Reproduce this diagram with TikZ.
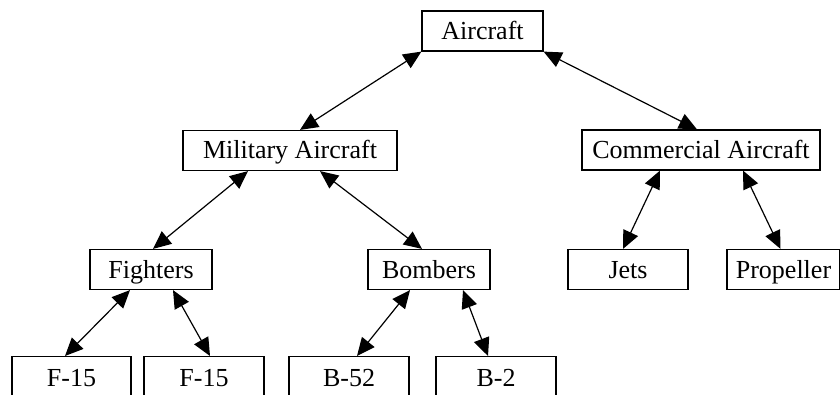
\documentclass[tikz,border=0pt]{standalone}
\usepackage{fontspec}
\setmainfont{Liberation Serif}
\usetikzlibrary{arrows.meta}
\begin{document}
\begin{tikzpicture}[x=1pt,y=-1pt,
  box/.style={draw,line width=1.2pt,inner sep=0pt,font=\fontsize{26}{30}\selectfont,minimum height=40pt,text height=20pt,text depth=3pt},
  link/.style={line width=1.2pt,{Triangle[length=18pt,width=16pt]}-{Triangle[length=18pt,width=16pt]}}]
\useasboundingbox (0,0) rectangle (840,395);
\clip (0,0) rectangle (840,395);
\node[box,minimum width=121pt] (air) at (482.5,31) {Aircraft};
\node[box,minimum width=214pt] (mil) at (290,150.5) {Military Aircraft};
\node[box,minimum width=238pt] (com) at (701,150) {Commercial Aircraft};
\node[box,minimum width=122pt] (fig) at (151,269.5) {Fighters};
\node[box,minimum width=122pt] (bom) at (429,269.5) {Bombers};
\node[box,minimum width=120pt] (jet) at (628,269.5) {Jets};
\node[box,minimum width=113pt] (pro) at (783.5,269.5) {Propeller};
\node[box,minimum width=119pt,minimum height=42pt,anchor=north] (fa) at (71.5,356) {F-15};
\node[box,minimum width=120pt,minimum height=42pt,anchor=north] (fb) at (204,356) {F-15};
\node[box,minimum width=120pt,minimum height=42pt,anchor=north] (bf) at (349,356) {B-52};
\node[box,minimum width=120pt,minimum height=42pt,anchor=north] (bt) at (496,356) {B-2};
\draw[link] (air.south west) -- ([xshift=10pt]mil.north);
\draw[link] (air.south east) -- ([xshift=-4pt]com.north);
\draw[link] ([xshift=-42pt]mil.south) -- ([xshift=2pt]fig.north);
\draw[link] ([xshift=30pt]mil.south) -- ([xshift=-7pt]bom.north);
\draw[link] ([xshift=-41pt]com.south) -- ([xshift=-5pt]jet.north);
\draw[link] ([xshift=42pt]com.south) -- ([xshift=-3pt]pro.north);
\draw[link] ([xshift=-21pt]fig.south) -- ([xshift=-6.5pt]fa.north);
\draw[link] ([xshift=22pt]fig.south) -- ([xshift=6pt]fb.north);
\draw[link] ([xshift=-19pt]bom.south) -- ([xshift=8pt]bf.north);
\draw[link] ([xshift=34pt]bom.south) -- ([xshift=-8pt]bt.north);
\end{tikzpicture}
\end{document}
